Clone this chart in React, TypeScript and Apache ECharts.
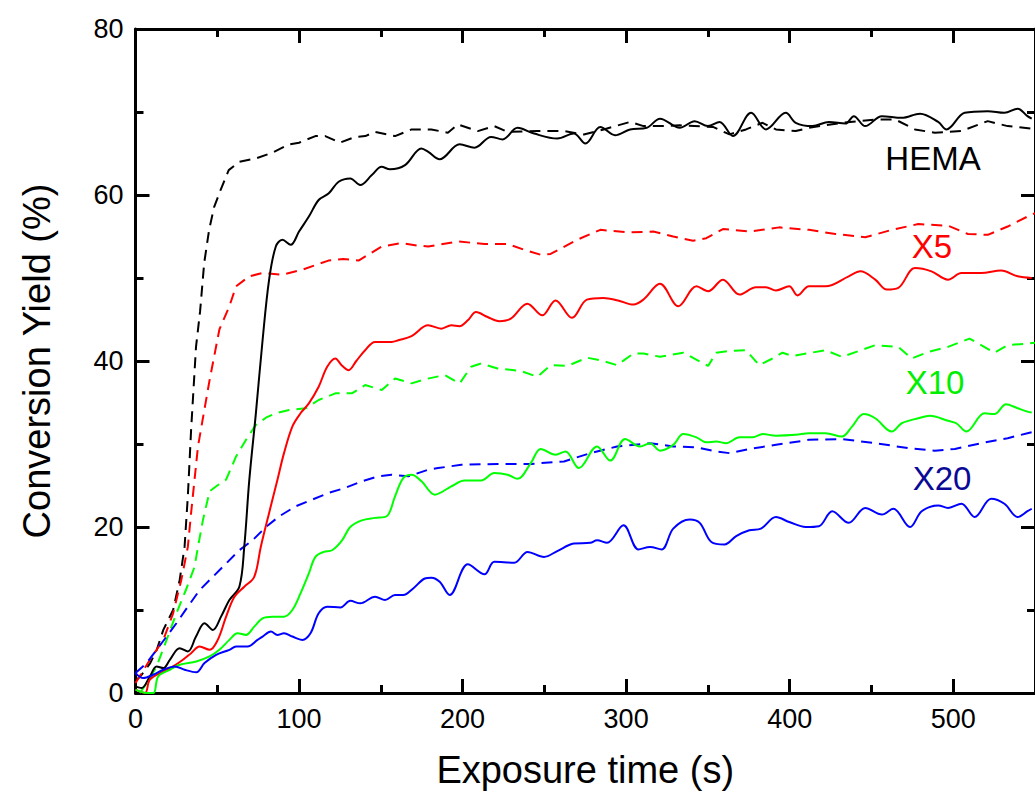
import React, { useEffect, useRef } from "react";
import * as echarts from "echarts";

type P = [number, number];

const xTicks = [0, 100, 200, 300, 400, 500];
const yTicks = [0, 20, 40, 60, 80];

const hemaDash: P[] = [[0,1.5],[3,2],[9,3.6],[13,5.2],[17,7.6],[23,10],[27,13.6],[30,17.6],[32,23.7],[34,31.7],[37,41.7],[39.5,46],[42,51.8],[45,55.8],[48,58.5],[52,60.6],[57,63],[63.5,64],[73.6,64.4],[83.7,65.1],[93.9,66.1],[100,66.3],[110,67.1],[116,67.1],[125,66.3],[134.4,67],[140.5,67.1],[146.5,67.6],[158.7,67.1],[168.8,67.9],[180.9,67.9],[191,67.5],[197.1,68.5],[209.3,67.7],[219.4,68.3],[227.5,67.6],[245.7,67.7],[262,67.7],[274.1,67.3],[286.3,67.9],[302.4,68.8],[310.6,68.3],[320.7,68.3],[332.8,68.4],[353.1,68.2],[363.2,67.3],[373.3,67.9],[383.4,68.7],[391.6,67.9],[403.7,67.7],[411.8,68.1],[432,68.7],[452.3,69.1],[464.5,69.1],[476.6,67.9],[488.8,67.5],[505,67.7],[521.1,68.9],[533.3,68.3],[548,68]];

const hemaSolid: P[] = [[0,0.8],[3.7,0.6],[8.8,2],[12.9,3.2],[17,3],[21,4],[27,5.4],[32,5],[37,6.8],[42.2,8.4],[47.3,7.6],[52.3,9.2],[57.4,11.2],[63.5,12.8],[66.5,17.6],[69.6,25.7],[73.6,33.7],[77.7,42.5],[81.7,49.8],[85.8,53.8],[89.8,54.6],[94.9,54],[100,55.6],[106,57.4],[112,59.4],[118.2,60.2],[124.2,61.6],[131.3,62],[137.4,61.2],[144.5,62.4],[150.5,63.4],[155.6,63.1],[164.8,63.6],[174.8,65.6],[179,65.2],[186,64.3],[198.2,66.1],[207.3,65.7],[217.4,67],[224.5,66.7],[233.6,68.1],[243.7,67.4],[257.9,66.8],[268,67.4],[275.1,66.2],[284.2,68.2],[293.3,67.2],[302.4,67.9],[312.6,68.1],[320.7,69.2],[332.8,68.1],[341.9,68.9],[350,68.3],[357.1,68.8],[365.3,67.1],[376.4,69.9],[385.5,67.9],[397.6,69.9],[403.7,68.7],[413.9,68.3],[424,68.8],[434.1,68.6],[439.2,69.5],[446.2,68.3],[456.4,69.5],[468.5,69.3],[479.7,69.8],[490.8,68.8],[495.9,67.9],[507,69.9],[521.1,70.1],[531.3,69.9],[539.4,70.4],[545.4,69.5],[548,69.2]];

const x5Dash: P[] = [[0,1.2],[8.8,4],[17,6.4],[23,9.6],[28,13.6],[32,17.6],[34,21.7],[38.2,29.7],[42,34],[45.3,37.7],[51.3,43.8],[57.4,46.6],[61.5,49],[69.5,50.2],[77.7,50.6],[89.8,50.4],[102,51],[118,52.1],[127,52.3],[136.4,52.1],[150.6,53.8],[162.7,54.2],[172.8,53.9],[179,53.8],[197.1,54.4],[213.4,54.1],[227.5,54.1],[237.7,53.4],[247.8,52.8],[253.8,52.9],[270,54.6],[284.2,55.8],[302.4,55.5],[316.6,55.6],[328.8,55],[340.9,54.5],[349,54.8],[359.2,55.9],[375.3,55.6],[393.6,56.1],[411.8,55.8],[428,55.3],[446.2,54.9],[462.4,55.8],[478.6,56.5],[496.9,56.3],[509,55.3],[521.1,55.2],[533.3,56.2],[545.4,57.4],[550,57.8]];

const x5Solid: P[] = [[0,0.4],[5.8,0],[8.8,1.6],[17,2.6],[23,3.2],[29,4],[34,4.8],[39.2,5.6],[45.3,5.2],[50.3,6.4],[55.4,9.2],[60.5,11.6],[66.5,12.8],[72.6,14],[76.6,17.6],[81.7,21.7],[86.8,25.7],[90.8,28.9],[95.9,32.1],[100.9,33.7],[106,34.9],[112,36.9],[117.2,39.3],[122.2,40.3],[126,39.5],[130.3,38.9],[135,40],[140.4,41.3],[146.5,42.3],[156.6,42.3],[160.7,42.5],[168.8,43],[178.9,44.3],[187,43.9],[193.1,44.3],[198.1,44.2],[203.2,44.9],[208.2,45.9],[215.3,45.3],[222.4,44.8],[229.5,45.1],[239.6,46.9],[248.7,45.5],[256.8,47.3],[266.9,45.2],[276,47.4],[286.1,47.6],[295,47.3],[304.5,46.8],[310.6,47.4],[320.7,49.3],[331.9,46.6],[343,49],[350.1,48.4],[359.2,49.8],[369.3,48],[379.4,48.9],[385.5,48.9],[391.6,48.5],[399.7,49],[404.8,47.9],[411.8,49],[421.9,49],[436.1,50.2],[443.2,50.8],[452.3,49.8],[459.4,48.6],[466.4,48.8],[476.6,51.2],[486.7,50.8],[496.8,49.8],[505,50.6],[517.1,50.6],[529.3,50.9],[539.4,50.2],[548,50]];

const x10Dash: P[] = [[2.7,0],[8,1.5],[12.9,3.2],[19,6.4],[25,9.6],[31,12.5],[36.1,15.2],[38.2,17.6],[41.2,20.8],[45.3,24.3],[50,25],[55.4,25.7],[61.5,28.5],[67.6,30.5],[73.6,32.3],[80,33.2],[85.8,33.7],[93.9,34.1],[104,34.3],[112,35.3],[122.2,36.1],[132.3,36.1],[140.4,37.1],[150.6,36.5],[158.7,37.9],[168.8,37.3],[176.9,37.8],[189,38.3],[198.2,37.3],[205.2,39.3],[211.3,39.7],[221.4,39.1],[235.6,38.8],[245.7,38.1],[253.8,39.5],[264,39.4],[276.1,40.4],[284.2,40.1],[294.4,39.5],[304.5,40.9],[310.6,40.9],[320.7,40.5],[334.9,41],[350.1,39.4],[355.1,41],[363.2,41.2],[373.3,41.3],[381.4,39.5],[389.5,40.3],[395.6,41],[401.7,40.6],[421.9,41.3],[432,40.5],[452.3,41.9],[466.4,41.7],[474.6,40.3],[484.7,41.1],[496.8,41.7],[510,42.7],[525.2,41],[533.3,41.9],[545.4,42.1],[550,42.2]];

const x10Solid: P[] = [[0,0.4],[6.8,0],[11,0],[13.9,2],[21,2.8],[27,3.4],[37.2,3.8],[45.3,4.4],[51.3,5.2],[57.4,6.4],[62.4,7.2],[67.5,7],[72.6,8],[77.7,9],[83.7,9.2],[90.8,9.2],[95.9,10],[100.9,12],[106,14.4],[110,16.4],[115.1,17],[120.2,17.2],[126.3,18.4],[131.3,20],[138.4,20.8],[146.5,21.1],[153.6,21.3],[158.7,23.7],[163.7,25.9],[168.8,26.3],[174.9,25.5],[183,23.9],[193.1,24.9],[201.2,25.6],[211.3,25.6],[219.4,26.5],[227.5,26.3],[233.6,25.8],[241.7,27.7],[247.8,29.4],[256.9,28.7],[262.9,29.1],[271.1,27.1],[282.2,29.7],[290.3,28],[299.4,30.6],[308.5,29.7],[314.6,30.1],[320.7,29.2],[328.8,29.9],[334.9,31.2],[343,30.8],[349,30.2],[355.1,30.3],[361.2,30.1],[369.3,30.8],[377.4,30.8],[383.5,31.2],[391.6,31],[403.7,31.1],[411.8,31.3],[421.9,31.3],[432,30.9],[438.1,32.1],[445.2,33.6],[452.3,33.1],[462.4,31.5],[468.5,32.5],[478.6,33.1],[485.7,33.4],[496.8,32.8],[501.9,32.5],[508,31.5],[519.1,33.7],[525.2,33.6],[532.3,34.8],[539.4,34.3],[545.4,33.9],[548,33.8]];

const x20Dash: P[] = [[0,2.4],[6.8,3.6],[12.9,5.2],[19,6.8],[25,8.4],[32,10.4],[39.2,12.4],[47.3,14],[55.4,15.6],[63.5,17.2],[71.6,18.4],[79.7,20],[88,21.3],[98,22.5],[108,23.3],[118,24.1],[128,24.7],[138.4,25.5],[148.5,26.1],[156.6,26.3],[166.8,26.1],[178.9,26.9],[185,27.1],[199.2,27.5],[221.4,27.6],[241.7,27.6],[262,27.9],[278.1,28.9],[294.4,29.7],[314.6,30.1],[328.8,29.7],[343,29.6],[355.1,29.1],[363.2,28.9],[375.3,29.4],[391.6,29.9],[411.8,30.5],[432,30.6],[452.3,30.1],[472.6,29.5],[488.8,29.2],[501,29.4],[517.1,30.1],[533.3,30.7],[545.4,31.3],[550,31.5]];

const x20Solid: P[] = [[0,2.4],[4.7,1.8],[10.8,2.2],[17,2.8],[24,3.2],[30,2.8],[37.2,2.5],[42.2,3.6],[49.3,4.6],[57.4,5.2],[61.5,5.6],[68.5,5.6],[74.6,6.4],[77.7,6.8],[82.8,7.4],[86.8,7],[90.8,7.2],[95.9,6.8],[102,6.4],[107,7.2],[112,9.6],[117.2,10.4],[125.3,10.3],[131.3,11.1],[137.4,10.8],[146.5,11.6],[152.6,11.2],[158.7,11.8],[163.7,11.8],[169.8,12.6],[176.9,13.8],[180.9,13.9],[186,13.4],[192.1,11.8],[203.2,15.5],[213.4,14.3],[219.4,15.8],[231.6,15.7],[239.7,17],[249.8,16.4],[257.9,17.1],[268,18],[278.1,18.1],[282.2,18.4],[288.3,18.1],[298.4,20.2],[307.5,17.3],[314.6,17.6],[321.7,17.3],[328.8,19.8],[338.9,20.9],[345,20.5],[352.1,18.2],[360.2,17.9],[367.3,18.9],[375.3,19.6],[382.4,19.8],[391.6,21.2],[399.7,20.6],[409.8,20],[417.9,20.1],[426,21.9],[436.1,20.5],[446.2,22.3],[456.4,21.5],[463.4,22.2],[473.6,20],[480.7,21.9],[490.8,22.6],[496.9,22.3],[505,22.8],[513.1,21.2],[523.2,23.4],[531.3,22.8],[539.4,21.2],[545.4,21.9],[548,22.2]];

const seriesLabels = ["HEMA", "X5", "X10", "X20"];

const FONT = '"Liberation Sans", Arial, sans-serif';
const BLACK = "#000000";
const RED = "#ff0000";
const GREEN = "#00ff00";
const BLUE = "#0000ff";

export default function App() {
  const ref = useRef<HTMLDivElement>(null);
  useEffect(() => {
    if (!ref.current) return;
    const chart = echarts.init(ref.current, undefined, { renderer: "svg" });
    const X_MAX = 550;
    const tickStyle = { color: BLACK, width: 3 };
    const baseX = {
      type: "value" as const,
      min: 0,
      max: X_MAX,
      splitLine: { show: false },
    };
    const baseY = {
      type: "value" as const,
      min: yTicks[0],
      max: yTicks[yTicks.length - 1],
      interval: yTicks[1] - yTicks[0],
      splitLine: { show: false },
      axisLine: { show: true, onZero: false, lineStyle: tickStyle },
      axisTick: { show: true, inside: true, length: 14, lineStyle: tickStyle },
      minorTick: { show: true, splitNumber: 2, length: 8, lineStyle: tickStyle },
    };
    const line = (data: P[], color: string, dashed: boolean) => ({
      type: "line" as const,
      data,
      showSymbol: false,
      symbol: "none",
      smooth: dashed ? false : 0.35,
      clip: true,
      lineStyle: {
        color,
        width: 2,
        type: dashed ? ([11, 7] as any) : "solid",
      },
      z: dashed ? 2 : 3,
    });
    chart.setOption({
      animation: false,
      textStyle: { fontFamily: FONT },
      grid: { left: 135.5, right: -6, top: 29, bottom: 103, containLabel: false },
      xAxis: [
        {
          ...baseX,
          position: "bottom",
          interval: xTicks[1] - xTicks[0],
          axisLine: { show: true, onZero: false, lineStyle: tickStyle },
          axisTick: { show: true, inside: true, length: 14, lineStyle: tickStyle },
          axisLabel: {
            show: true,
            color: BLACK,
            fontSize: 27,
            fontFamily: FONT,
            margin: 12,
            showMaxLabel: false,
            formatter: (v: number) => (xTicks.indexOf(v) >= 0 ? String(v) : ""),
          },
          name: "Exposure time (s)",
          nameLocation: "middle",
          nameGap: 58,
          nameTextStyle: { color: BLACK, fontSize: 38, fontFamily: FONT },
        },
        {
          ...baseX,
          position: "bottom",
          interval: (xTicks[1] - xTicks[0]) / 2,
          axisLine: { show: false, onZero: false },
          axisTick: { show: true, inside: true, length: 8, lineStyle: tickStyle },
          axisLabel: { show: false },
        },
        {
          ...baseX,
          position: "top",
          interval: xTicks[1] - xTicks[0],
          axisLine: { show: true, onZero: false, lineStyle: tickStyle },
          axisTick: { show: true, inside: true, length: 14, lineStyle: tickStyle },
          axisLabel: { show: false },
        },
        {
          ...baseX,
          position: "top",
          interval: (xTicks[1] - xTicks[0]) / 2,
          axisLine: { show: false, onZero: false },
          axisTick: { show: true, inside: true, length: 8, lineStyle: tickStyle },
          axisLabel: { show: false },
        },
      ],
      yAxis: [
        {
          ...baseY,
          position: "left",
          axisLabel: { color: BLACK, fontSize: 27, fontFamily: FONT, margin: 12 },
          name: "Conversion Yield (%)",
          nameLocation: "middle",
          nameGap: 80,
          nameTextStyle: { color: BLACK, fontSize: 38, fontFamily: FONT },
        },
        {
          ...baseY,
          position: "right",
          axisLabel: { show: false },
        },
      ],
      series: [
        line(hemaDash, BLACK, true),
        line(x5Dash, RED, true),
        line(x10Dash, GREEN, true),
        line(x20Dash, BLUE, true),
        line(hemaSolid, BLACK, false),
        line(x5Solid, RED, false),
        line(x10Solid, GREEN, false),
        line(x20Solid, BLUE, false),
      ],
      graphic: [
        { type: "text", x: 933, y: 158, style: { text: seriesLabels[0], fill: BLACK, fontSize: 33, fontFamily: FONT, align: "center", verticalAlign: "middle" } },
        { type: "text", x: 932, y: 246, style: { text: seriesLabels[1], fill: RED, fontSize: 33, fontFamily: FONT, align: "center", verticalAlign: "middle" } },
        { type: "text", x: 935, y: 382, style: { text: seriesLabels[2], fill: "#00ee00", fontSize: 33, fontFamily: FONT, align: "center", verticalAlign: "middle" } },
        { type: "text", x: 942, y: 478, style: { text: seriesLabels[3], fill: "#0a0a96", fontSize: 33, fontFamily: FONT, align: "center", verticalAlign: "middle" } },
      ],
    });
    return () => chart.dispose();
  }, []);
  return (
    <div
      ref={ref}
      style={{ position: "fixed", left: 0, top: 0, width: 1035, height: 796, background: "#ffffff" }}
    />
  );
}
